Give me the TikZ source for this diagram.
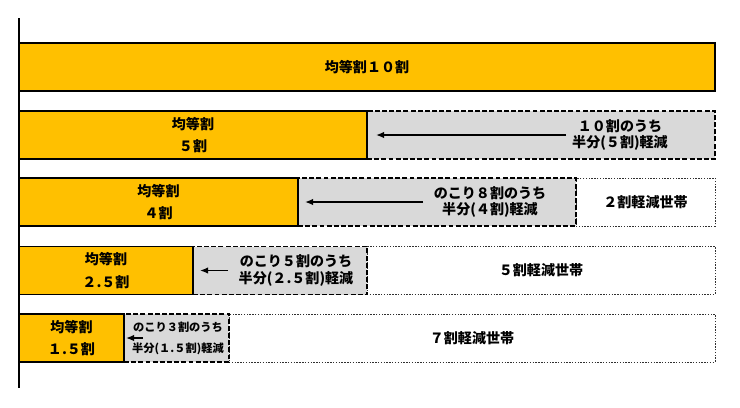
\documentclass[tikz,border=0pt]{standalone}
\usepackage{fontspec}
\setmainfont{Noto Sans CJK JP}
\usetikzlibrary{arrows.meta}
\definecolor{cyellow}{HTML}{FFC000}
\definecolor{cgrey}{HTML}{D9D9D9}
\definecolor{cdark}{HTML}{303030}
\tikzset{
  every picture/.style={font=\bfseries\fontsize{10}{12}\selectfont, line width=1pt},
  bar/.style={anchor=west, minimum height=1.2cm, inner sep=0pt, outer sep=0pt, align=center},
  paid/.style={bar, draw=black, fill=cyellow},
  cut/.style={bar, draw=black, fill=cgrey, line width=1.2pt, dash pattern=on 3.5pt off 1.6pt},
  rest/.style={bar, draw=cdark, line width=0.6pt, dash pattern=on 1pt off 1pt},
  arrow/.style={-{Latex[length=2mm, width=1.6mm]}, line width=1pt},
  note/.style={align=center},
  small/.style={font=\bfseries\fontsize{8}{10}\selectfont},
}
\begin{document}
\begin{tikzpicture}
  \useasboundingbox (-0.475,0) rectangle (18.025,-10.175);
  % full share
  \node[paid, minimum width=17.4cm] (paid1) at (0,-1.675) {均等割１０割};
  % half of 10
  \node[cut, minimum width=8.7cm] (cut2) at (8.7,-3.375) {};
  \node[paid, minimum width=8.7cm] (paid2) at (0,-3.375) {均等割\\[4pt]５割};
  \node[note] (note2) at (15.025,-3.375) {１０割のうち\\半分(５割)軽減};
  \coordinate (from2) at (13.675,-3.375);
  \draw[arrow, shorten >=0.225cm] (from2) -- (paid2.east);
  % 2 wari household
  \node[rest, minimum width=3.475cm] (rest3) at (13.925,-5.05) {２割軽減世帯};
  \node[cut, minimum width=6.95cm] (cut3) at (6.975,-5.05) {};
  \node[paid, minimum width=6.975cm] (paid3) at (0,-5.05) {均等割\\[4pt]４割};
  \node[note] (note3) at (11.775,-5.05) {のこり８割のうち\\半分(４割)軽減};
  \coordinate (from3) at (10.1,-5.05);
  \draw[arrow, shorten >=0.175cm] (from3) -- (paid3.east);
  % 5 wari household
  \node[rest, minimum width=8.7cm] (rest4) at (8.7,-6.7625) {５割軽減世帯};
  \node[cut, minimum width=4.35cm] (cut4) at (4.35,-6.7625) {};
  \node[paid, minimum width=4.35cm] (paid4) at (0,-6.7625) {均等割\\[4pt]２.５割};
  \node[note] (note4) at (6.925,-6.7625) {のこり５割のうち\\半分(２.５割)軽減};
  \coordinate (from4) at (5.225,-6.7625);
  \draw[arrow, shorten >=0.175cm] (from4) -- (paid4.east);
  % 7 wari household
  \node[rest, minimum width=12.15cm] (rest5) at (5.25,-8.45) {７割軽減世帯};
  \node[cut, minimum width=2.625cm] (cut5) at (2.625,-8.45) {};
  \node[paid, minimum width=2.625cm] (paid5) at (0,-8.45) {均等割\\[4pt]１.５割};
  \node[note, small] (note5) at (3.975,-8.45) {のこり３割のうち\\[5pt]半分(１.５割)軽減};
  \coordinate (from5) at (3.1,-8.45);
  \draw[arrow, shorten >=0.05cm] (from5) -- (paid5.east);
  % axis
  \draw (0,-0.45) -- (0,-9.7);
\end{tikzpicture}
\end{document}
